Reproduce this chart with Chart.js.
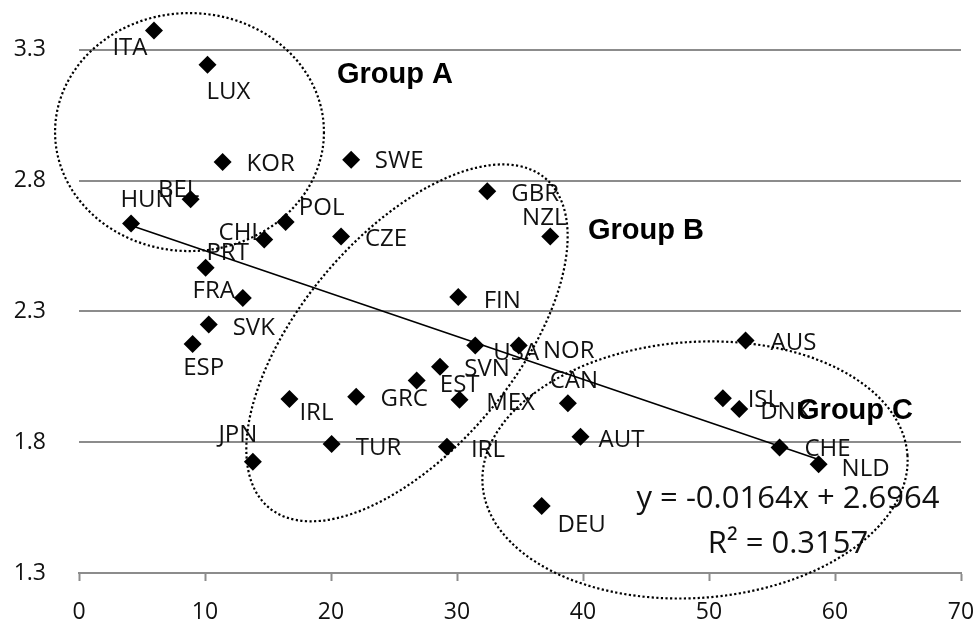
<!DOCTYPE html>
<html><head><meta charset="utf-8">
<script src="https://cdn.jsdelivr.net/npm/chart.js@4"></script>
<style>html,body{margin:0;padding:0;background:#fff;overflow:hidden}#wrap{width:975px;height:624px}</style>
</head><body><div id="wrap"><canvas id="c" width="975" height="624"></canvas></div>
<script>
// ---- data ----
const countries = ['ITA','LUX','KOR','BEL','HUN','CHL','POL','PRT','FRA','SVK','ESP','IRL','JPN','SWE','GBR','NZL','CZE','FIN','USA','NOR','SVN','EST','GRC','MEX','CAN','AUT','TUR','IRL','AUS','ISL','DNK','CHE','NLD','DEU'];
const xValues = [5.95,10.2,11.4,8.86,4.13,14.7,16.4,10.05,13.0,10.3,9.02,16.7,13.8,21.6,32.4,37.4,20.8,30.1,31.45,34.9,28.65,26.8,22.0,30.2,38.8,39.8,20.05,29.2,52.9,51.1,52.4,55.6,58.7,36.72];
const yValues = [3.374,3.243,2.872,2.729,2.636,2.575,2.642,2.467,2.352,2.250,2.176,1.965,1.725,2.88,2.760,2.587,2.587,2.355,2.170,2.170,2.089,2.036,1.974,1.962,1.949,1.821,1.793,1.783,2.189,1.968,1.927,1.780,1.716,1.556];
const yTicks = [1.3,1.8,2.3,2.8,3.3];
const xTicks = [0,10,20,30,40,50,60,70];
const trendSlope = -0.0164;
const trendIntercept = 2.6964;
const equationText = 'y = -0.0164x + 2.6964';
const r2Text = 'R\u00B2 = 0.3157';
const groupNames = ['Group A','Group B','Group C'];

// ---- layout (label offsets in px from marker centre) ----
const labelOffsets = [[-24,16],[21,26],[48,1],[-12,-11],[16,-25],[-23,-8],[36,-16],[22,-16],[-29,-8],[45,2],[11,23],[27,12],[-15,-28],[48,0],[48,1],[-6,-20],[45,1],[44,2],[41,6],[50,4],[47,1],[43,3],[48,1],[51,2],[6,-24],[41,2],[47,2],[41,2],[48,1],[41,0],[46,1],[48,0],[47,3],[40,17]];
const groupAnchors = [[25.08,3.174],[45.0,2.577],[61.59,1.889]];
const equationAnchor = [56.27,1.549];
const r2Anchor = [56.27,1.377];
const ellipses = [
  {cx:8.77, cy:2.986, rx:10.67, ry:0.455, rot:0},
  {cx:26.03, cy:2.180, rx:17.06, ry:0.4092, rot:-50},
  {cx:48.89, cy:1.694, rx:16.9, ry:0.4895, rot:-4}
];
const AREA = {left:79, top:0, right:961, bottom:573};

const xMin = Math.min(...xValues), xMax = Math.max(...xValues);
const trendPts = [xMin, xMax].map(x => ({x, y: trendSlope*x + trendIntercept}));
const points = countries.map((c,i)=>({x:xValues[i], y:yValues[i]}));

const TEXT = '#111';
const GRID = '#8c8c8c';

const annot = {
  id:'annot',
  beforeDatasetsDraw(chart){
    const {ctx, scales:{x,y}} = chart;
    ctx.save();
    ctx.font = '24px "Open Sans"';
    ctx.fillStyle = TEXT;
    ctx.textAlign = 'center';
    ctx.textBaseline = 'alphabetic';
    countries.forEach((c,i)=>{
      const px = x.getPixelForValue(xValues[i]) + labelOffsets[i][0];
      const py = y.getPixelForValue(yValues[i]) + labelOffsets[i][1] + 8.5;
      ctx.fillText(c, px, py);
    });
    ctx.restore();
  },
  afterDatasetsDraw(chart){
    const {ctx, scales:{x,y}} = chart;
    ctx.save();
    ctx.fillStyle = '#000';
    ctx.textAlign = 'center';
    ctx.textBaseline = 'alphabetic';
    ctx.font = 'bold 29px "Liberation Sans", Arial, sans-serif';
    groupNames.forEach((g,i)=>{
      ctx.fillText(g, x.getPixelForValue(groupAnchors[i][0]), y.getPixelForValue(groupAnchors[i][1]));
    });
    ctx.fillStyle = TEXT;
    ctx.font = '31px "Open Sans"';
    ctx.fillText(equationText, x.getPixelForValue(equationAnchor[0]), y.getPixelForValue(equationAnchor[1]));
    ctx.fillText(r2Text, x.getPixelForValue(r2Anchor[0]), y.getPixelForValue(r2Anchor[1]));
    ctx.strokeStyle = '#000';
    ctx.lineWidth = 2.2;
    ctx.setLineDash([2.2,2.4]);
    ellipses.forEach(e=>{
      const cx = x.getPixelForValue(e.cx), cy = y.getPixelForValue(e.cy);
      const rx = Math.abs(x.getPixelForValue(e.cx+e.rx) - cx);
      const ry = Math.abs(y.getPixelForValue(e.cy+e.ry) - cy);
      ctx.beginPath();
      ctx.ellipse(cx, cy, rx, ry, e.rot*Math.PI/180, 0, Math.PI*2);
      ctx.stroke();
    });
    ctx.restore();
  }
};

const chart = new Chart(document.getElementById('c').getContext('2d'), {
  type:'scatter',
  data:{datasets:[
    {label:'Countries', data:points, pointStyle:'rectRot', pointRadius:9, pointHoverRadius:9,
     backgroundColor:'#000', borderColor:'#000', borderWidth:0, order:1},
    {type:'line', label:'Trend', data:trendPts, borderColor:'#000', borderWidth:1.6,
     pointRadius:0, fill:false, order:2}
  ]},
  options:{
    responsive:false, animation:false, devicePixelRatio:1,
    layout:{autoPadding:false, padding:{top:0,right:14,bottom:0,left:0}},
    plugins:{legend:{display:false}, tooltip:{enabled:false}},
    scales:{
      x:{type:'linear', min:0, max:70,
         afterBuildTicks:s=>{ s.ticks = xTicks.map(v=>({value:v})); },
         ticks:{font:{family:'Open Sans', size:23}, color:TEXT, padding:18, maxRotation:0},
         grid:{drawOnChartArea:false, drawTicks:true, tickLength:8, tickWidth:2, tickColor:GRID},
         border:{display:true, color:GRID, width:2},
         afterFit:s=>{ s.height = 51; s.paddingLeft = 0; s.paddingRight = 0; s.paddingTop = 0; s.paddingBottom = 0; }},
      y:{type:'linear', min:1.3, max:3.491,
         afterBuildTicks:s=>{ s.ticks = yTicks.map(v=>({value:v})); },
         ticks:{font:{family:'Open Sans', size:23}, color:TEXT, padding:33, callback:v=>Number(v).toFixed(1)},
         grid:{color:GRID, lineWidth:2, drawTicks:false},
         border:{display:false},
         afterFit:s=>{ s.width = 79; s.paddingTop = 0; s.paddingBottom = 0; s.paddingLeft = 0; s.paddingRight = 0; }}
    }
  },
  plugins:[annot]
});
// correct any residual layout offset so the plot area matches the reference frame
(function fix(){
  const a = chart.chartArea, p = chart.options.layout.padding;
  const dt = AREA.top - a.top, dr = a.right - AREA.right, db = a.bottom - AREA.bottom, dl = AREA.left - a.left;
  if (Math.abs(dt)+Math.abs(dr)+Math.abs(db)+Math.abs(dl) > 0.5) {
    chart.options.layout.padding = {top:p.top+dt, right:p.right+dr, bottom:p.bottom+db, left:p.left+dl};
    chart.update('none');
  }
})();
</script></body></html>
